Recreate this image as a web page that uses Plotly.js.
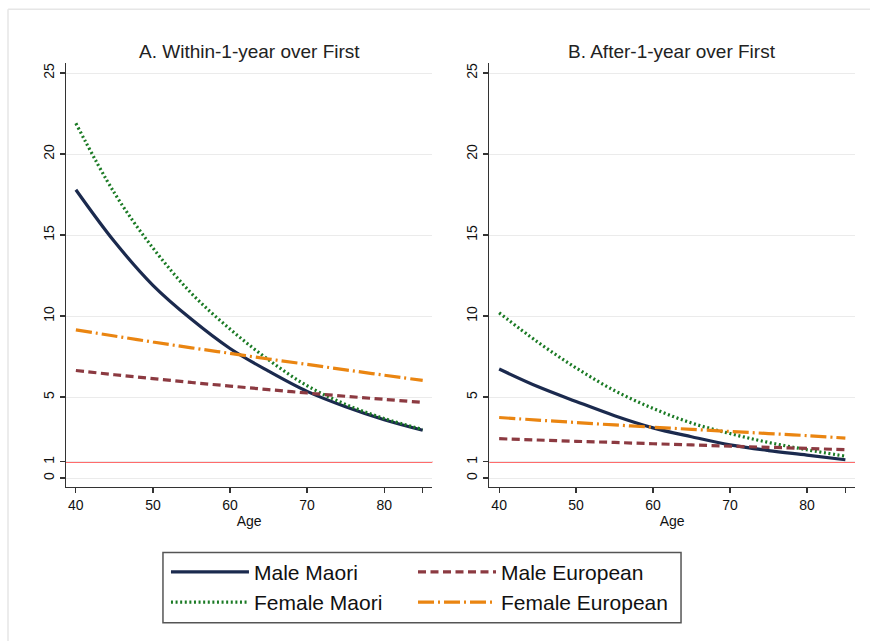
<!DOCTYPE html>
<html>
<head>
<meta charset="utf-8">
<script src="https://cdn.plot.ly/plotly-3.0.1.min.js"></script>
<style>
html,body{margin:0;padding:0;background:#fff;}
#chart{width:870px;height:641px;}
</style>
</head>
<body>
<div id="chart"></div>
<script>
// Age grid
const ages = [40, 45, 50, 55, 60, 65, 70, 75, 80, 85];

// Panel A: Within-1-year over First
const A_maleMaori      = [17.8, 14.6, 11.9, 9.8, 8.0, 6.6, 5.35, 4.4, 3.6, 2.95];
const A_femaleMaori    = [21.9, 17.6, 14.2, 11.4, 9.2, 7.3, 5.7, 4.55, 3.68, 3.0];
const A_maleEuropean   = [6.64, 6.38, 6.14, 5.9, 5.68, 5.46, 5.25, 5.05, 4.86, 4.67];
const A_femaleEuropean = [9.15, 8.77, 8.4, 8.04, 7.7, 7.35, 7.02, 6.68, 6.35, 6.03];

// Panel B: After-1-year over First
const B_maleMaori      = [6.73, 5.65, 4.73, 3.85, 3.1, 2.55, 2.05, 1.7, 1.42, 1.13];
const B_femaleMaori    = [10.2, 8.4, 6.8, 5.4, 4.3, 3.4, 2.75, 2.2, 1.75, 1.35];
const B_maleEuropean   = [2.43, 2.35, 2.27, 2.2, 2.12, 2.05, 1.97, 1.9, 1.83, 1.75];
const B_femaleEuropean = [3.74, 3.58, 3.43, 3.28, 3.14, 3.01, 2.88, 2.75, 2.62, 2.47];

const seriesNames = ["Male Maori", "Female Maori", "Male European", "Female European"];
const panelTitles = ["A. Within-1-year over First", "B. After-1-year over First"];
const xTickVals = [40, 50, 60, 70, 80, 85];
const xTickText = ["40", "50", "60", "70", "80", ""];
const yTickVals = [0, 1, 5, 10, 15, 20, 25];
const yTickText = ["0", "1", "5", "10", "15", "20", "25"];

const styles = {
  "Male Maori":      {color: "#1b2a4e", width: 3.2, dash: "solid", legend: "legend"},
  "Male European":   {color: "#8c3a41", width: 3.2, dash: "8px,4.5px", legend: "legend2"},
  "Female Maori":    {color: "#1a7a24", width: 3.2, dash: "2px,2.6px", legend: "legend"},
  "Female European": {color: "#ea8511", width: 3.2, dash: "16px,4px,2px,4px", legend: "legend2"}
};

const panelData = [
  {xa: "x",  ya: "y",  d: {"Male Maori": A_maleMaori, "Male European": A_maleEuropean, "Female Maori": A_femaleMaori, "Female European": A_femaleEuropean}},
  {xa: "x2", ya: "y2", d: {"Male Maori": B_maleMaori, "Male European": B_maleEuropean, "Female Maori": B_femaleMaori, "Female European": B_femaleEuropean}}
];

const traces = [];
panelData.forEach((p, pi) => {
  seriesNames.forEach(n => {
    traces.push({
      type: "scatter", mode: "lines",
      x: ages, y: p.d[n], name: n,
      xaxis: p.xa, yaxis: p.ya,
      showlegend: pi === 0,
      legend: styles[n].legend,
      line: {color: styles[n].color, width: styles[n].width, dash: styles[n].dash, shape: "spline", smoothing: 1},
      hoverinfo: "skip"
    });
  });
});

const font = "'Liberation Sans', Arial, sans-serif";
const axisX = (domain, anchor) => ({
  domain: domain, anchor: anchor,
  range: [38.72, 86.25],
  tickmode: "array", tickvals: xTickVals, ticktext: xTickText,
  ticks: "outside", ticklen: 5, tickwidth: 1.2, tickcolor: "#333",
  showline: true, linecolor: "#333", linewidth: 1.3,
  showgrid: false, zeroline: false,
  tickfont: {family: font, size: 14, color: "#111"},
  title: {text: "Age", font: {family: font, size: 14, color: "#111"}, standoff: 0}
});
const axisY = (anchor) => ({
  anchor: anchor,
  range: [-0.55, 25.62],
  tickmode: "array", tickvals: yTickVals, ticktext: yTickText,
  tickangle: -90,
  ticks: "outside", ticklen: 5, tickwidth: 1.2, tickcolor: "#333",
  showline: true, linecolor: "#333", linewidth: 1.3,
  showgrid: true, gridcolor: "#ebebeb", gridwidth: 1,
  zeroline: false,
  tickfont: {family: font, size: 14, color: "#111"}
});

const legendBase = (x) => ({
  orientation: "v",
  x: x, y: -0.1525, xanchor: "left", yanchor: "top",
  borderwidth: 0, bgcolor: "rgba(0,0,0,0)",
  font: {family: font, size: 21, color: "#111"},
  itemwidth: 78,
  traceorder: "normal"
});

const layout = {
  width: 870, height: 641,
  margin: {l: 66, r: 15, t: 63, b: 154},
  paper_bgcolor: "#ffffff", plot_bgcolor: "#ffffff",
  font: {family: font, color: "#111"},
  xaxis: axisX([0, 0.4643], "y"),
  yaxis: axisY("x"),
  xaxis2: axisX([0.5365, 1], "y2"),
  yaxis2: axisY("x2"),
  showlegend: true,
  legend: legendBase(0.1267),
  legend2: legendBase(0.4398),
  annotations: [
    {text: panelTitles[0], xref: "x domain", yref: "paper", x: 0.5, y: 1.027, xanchor: "center", yanchor: "middle", showarrow: false, font: {family: font, size: 19, color: "#222"}},
    {text: panelTitles[1], xref: "x2 domain", yref: "paper", x: 0.5, y: 1.027, xanchor: "center", yanchor: "middle", showarrow: false, font: {family: font, size: 19, color: "#222"}}
  ],
  shapes: [
    {type: "line", xref: "x domain", yref: "y", x0: 0, x1: 1, y0: 1, y1: 1, line: {color: "#ff3b3b", width: 1.5}, layer: "below"},
    {type: "line", xref: "x2 domain", yref: "y2", x0: 0, x1: 1, y0: 1, y1: 1, line: {color: "#ff3b3b", width: 1.5}, layer: "below"},
    {type: "line", xref: "paper", yref: "paper", x0: -0.0735, x1: 1.03, y0: 1.1267, y1: 1.1267, line: {color: "#e6e6e6", width: 1.5}},
    {type: "line", xref: "paper", yref: "paper", x0: -0.0735, x1: -0.0735, y0: 1.1267, y1: -0.37, line: {color: "#e6e6e6", width: 1.5}},
    {type: "rect", xref: "paper", yref: "paper", x0: 0.1229, x1: 0.7795, y0: -0.1542, y1: -0.32, line: {color: "#555", width: 1.5}, fillcolor: "rgba(0,0,0,0)"}
  ]
};

Plotly.newPlot("chart", traces, layout, {displayModeBar: false, staticPlot: true});
</script>
</body>
</html>
